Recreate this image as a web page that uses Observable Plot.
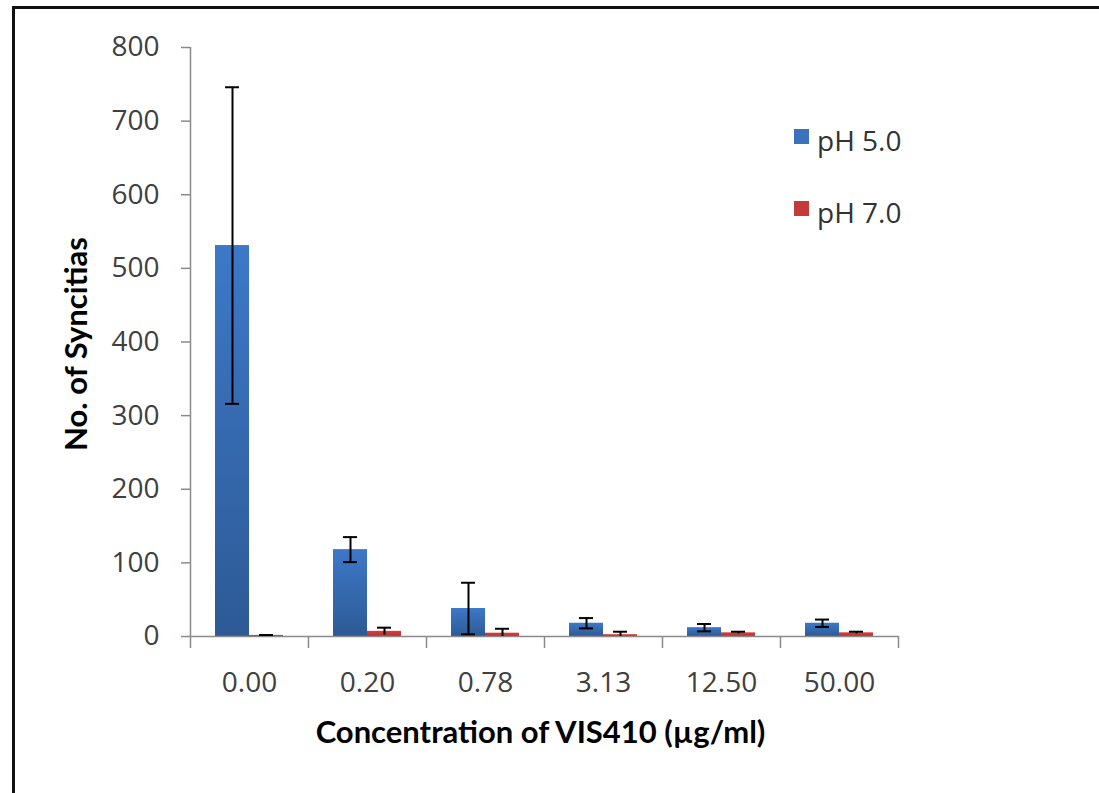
<!DOCTYPE html>
<html>
<head>
<meta charset="utf-8">
<script src="https://cdn.jsdelivr.net/npm/d3@7"></script>
<script src="https://cdn.jsdelivr.net/npm/@observablehq/plot@0.6"></script>
<style>
  html, body { margin: 0; padding: 0; background: #fff; }
  #wrap { position: relative; width: 1099px; height: 793px; overflow: hidden; }
  #border { position: absolute; left: 12px; top: 6px; width: 1200px; height: 900px;
            border-top: 3px solid #111; border-left: 3px solid #111; box-sizing: border-box; }
  .lg-sq { position: absolute; width: 15px; height: 15px; }
  .lg-tx { position: absolute; font-family: 'Open Sans', sans-serif; font-size: 28px; line-height: 28px; color: #333; white-space: nowrap; }
</style>
</head>
<body>
<div id="wrap">
  <div id="border"></div>
</div>
<script>
// ---- data ----
const concentrations = ["0.00", "0.20", "0.78", "3.13", "12.50", "50.00"];
const seriesNames = ["pH 5.0", "pH 7.0"];
const ph5Values = [531, 118, 38, 18, 12, 18];
const ph5Errors = [215, 17, 35, 7, 5, 5];
const ph7Values = [1.5, 7, 4.5, 2.5, 5, 5];
const ph7Errors = [0.5, 5, 6, 4, 1.5, 1.5];
const yTicks = [0, 100, 200, 300, 400, 500, 600, 700, 800];
const xTitle = "Concentration of VIS410 (\u00b5g/ml)";
const yTitle = "No. of Syncitias";

const rows = concentrations.map((c, i) => ({
  conc: c,
  v5: ph5Values[i], e5: ph5Errors[i],
  v7: ph7Values[i], e7: ph7Errors[i]
}));

const blue = "#3a70bd";
const red = "#c93834";
const grey = "#8a8a8a";

const chart = Plot.plot({
  width: 1099,
  height: 793,
  marginLeft: 190,
  marginRight: 201,
  marginTop: 47,
  marginBottom: 157,
  style: { fontFamily: "'Open Sans', sans-serif", background: "transparent" },
  x: { domain: concentrations, padding: 0, axis: null },
  y: { domain: [yTicks[0], yTicks[yTicks.length - 1]], axis: null },
  marks: [
    // bars
    Plot.barY(rows, { x: "conc", y: "v5", fill: blue, insetLeft: 25, insetRight: 59, className: "bar5" }),
    Plot.barY(rows, { x: "conc", y: "v7", fill: red, insetLeft: 59, insetRight: 25, className: "bar7" }),
    // baseline and y axis line
    Plot.ruleY([yTicks[0]], { stroke: grey, strokeWidth: 1.5 }),
    Plot.ruleX([concentrations[0]], { x: d => d, dx: -59, y1: yTicks[0], y2: yTicks[yTicks.length - 1], stroke: grey, strokeWidth: 1.5 }),
    // x boundary ticks
    Plot.axisX({ tickSize: 12, dx: -59, fill: "none", stroke: grey, strokeWidth: 1.5, label: null }),
    Plot.axisX({ ticks: [concentrations[concentrations.length - 1]], tickSize: 12, dx: 59, fill: "none", stroke: grey, strokeWidth: 1.5, label: null }),
    // x tick labels
    Plot.axisX({ tickSize: 0, tickPadding: 36, fontSize: 28, fill: "#404040", label: null }),
    // y axis
    Plot.axisY({ ticks: yTicks, tickSize: 9, tickPadding: 22, fontSize: 28, stroke: grey, strokeWidth: 1.5, fill: "#404040", label: null }),
    // error bars pH 5.0
    Plot.ruleX(rows, { x: "conc", y1: d => d.v5 - d.e5, y2: d => d.v5 + d.e5, dx: -17, stroke: "#000", strokeWidth: 2 }),
    Plot.tickY(rows, { x: "conc", y: d => d.v5 + d.e5, insetLeft: 35, insetRight: 69, stroke: "#000", strokeWidth: 2 }),
    Plot.tickY(rows, { x: "conc", y: d => d.v5 - d.e5, insetLeft: 35, insetRight: 69, stroke: "#000", strokeWidth: 2 }),
    // error bars pH 7.0
    Plot.ruleX(rows, { x: "conc", y1: d => Math.max(0, d.v7 - d.e7), y2: d => d.v7 + d.e7, dx: 17, stroke: "#000", strokeWidth: 2 }),
    Plot.tickY(rows, { x: "conc", y: d => d.v7 + d.e7, insetLeft: 69, insetRight: 35, stroke: "#000", strokeWidth: 2 }),
    // titles
    Plot.text([xTitle], { text: d => d, frameAnchor: "bottom", textAnchor: "middle", dy: 106, dx: -4, fontSize: 31, fontWeight: "bold", fontFamily: "Lato, sans-serif", fill: "#000" }),
    Plot.text([yTitle], { text: d => d, frameAnchor: "left", textAnchor: "middle", rotate: -90, dx: -113, dy: 2, fontSize: 31, fontWeight: "bold", fontFamily: "Lato, sans-serif", fill: "#000" })
  ]
});

// vertical gradients on bars (Excel style)
const ns = "http://www.w3.org/2000/svg";
const defs = document.createElementNS(ns, "defs");
function grad(id, top, bottom) {
  const g = document.createElementNS(ns, "linearGradient");
  g.setAttribute("id", id);
  g.setAttribute("x1", "0"); g.setAttribute("y1", "0");
  g.setAttribute("x2", "0"); g.setAttribute("y2", "1");
  [[0, top], [1, bottom]].forEach(([o, c]) => {
    const s = document.createElementNS(ns, "stop");
    s.setAttribute("offset", o); s.setAttribute("stop-color", c);
    g.appendChild(s);
  });
  defs.appendChild(g);
}
grad("gBlue", "#3d78c8", "#2d5a95");
grad("gRed", "#d8413c", "#b82f2c");
chart.insertBefore(defs, chart.firstChild);
chart.querySelectorAll("g.bar5 rect").forEach(r => r.setAttribute("fill", "url(#gBlue)"));
chart.querySelectorAll("g.bar7 rect").forEach(r => r.setAttribute("fill", "url(#gRed)"));

const wrap = document.getElementById("wrap");
chart.style.position = "absolute";
chart.style.left = "0px";
chart.style.top = "0px";
wrap.appendChild(chart);

// legend
const legendColors = ["#3c71bc", "#c23a3a"];
const legendTops = [129, 201];
seriesNames.forEach((name, i) => {
  const sq = document.createElement("div");
  sq.className = "lg-sq";
  sq.style.left = "794px";
  sq.style.top = legendTops[i] + "px";
  sq.style.background = legendColors[i];
  wrap.appendChild(sq);
  const tx = document.createElement("div");
  tx.className = "lg-tx";
  tx.style.left = "817px";
  tx.style.top = (legendTops[i] - 3) + "px";
  tx.textContent = name;
  wrap.appendChild(tx);
});
</script>
</body>
</html>
